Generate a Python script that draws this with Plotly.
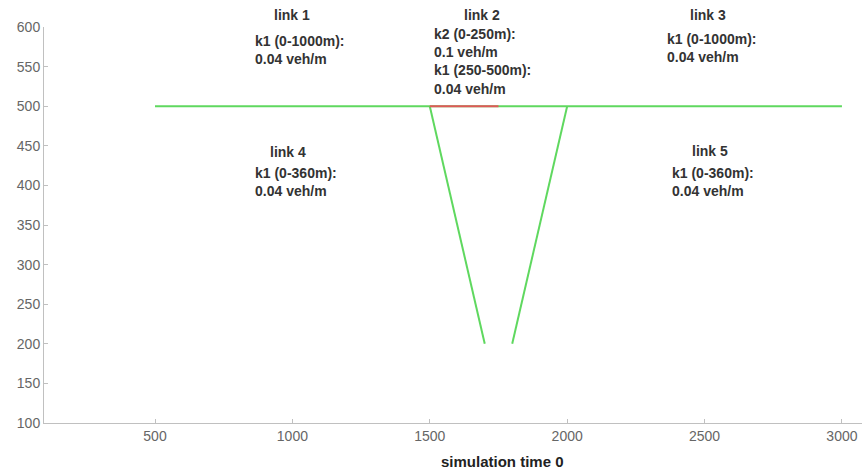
import plotly.graph_objects as go

# link segments (x positions, y positions)
link_main_x = [500, 3000]
link_main_y = [500, 500]
link2_jam_x = [1500, 1750]
link2_jam_y = [500, 500]
link4_x = [1500, 1700]
link4_y = [500, 200]
link5_x = [1800, 2000]
link5_y = [200, 500]

# annotation labels
label_titles = ["link 1", "link 2", "link 3", "link 4", "link 5"]
label_title_x = [1000, 1690, 2512, 984, 2520]
label_title_y = [615, 615, 615, 442, 443]
label_body = [
    "k1 (0-1000m):<br>0.04 veh/m",
    "k2 (0-250m):<br>0.1 veh/m<br>k1 (250-500m):<br>0.04 veh/m",
    "k1 (0-1000m):<br>0.04 veh/m",
    "k1 (0-360m):<br>0.04 veh/m",
    "k1 (0-360m):<br>0.04 veh/m",
]
label_body_x = [857, 1508, 2356, 857, 2374]
label_body_y = [571, 557, 573, 404, 404]

x_ticks = [500, 1000, 1500, 2000, 2500, 3000]
y_ticks = [100, 150, 200, 250, 300, 350, 400, 450, 500, 550, 600]
x_range = [96, 3073]
y_range = [100, 600]

GREEN = "#5fd85f"
RED = "#e05858"
FONT = "Arial, Liberation Sans, sans-serif"

fig = go.Figure()
for xs, ys, c in [(link_main_x, link_main_y, GREEN), (link4_x, link4_y, GREEN),
                  (link5_x, link5_y, GREEN), (link2_jam_x, link2_jam_y, RED)]:
    fig.add_trace(go.Scatter(x=xs, y=ys, mode="lines",
                             line=dict(color=c, width=2), showlegend=False,
                             hoverinfo="skip", cliponaxis=False))

font_ann = dict(family=FONT, size=14, color="#333333")
for t, x, y in zip(label_titles, label_title_x, label_title_y):
    if y > y_range[1]:
        # above the plotting area: place with paper y
        yp = (y - y_range[0]) / (y_range[1] - y_range[0])
        fig.add_annotation(x=x, y=yp, yref="paper", text="<b>%s</b>" % t,
                           showarrow=False, xanchor="center", yanchor="middle",
                           font=font_ann)
    else:
        fig.add_annotation(x=x, y=y, text="<b>%s</b>" % t, showarrow=False,
                           xanchor="center", yanchor="middle", font=font_ann)
for t, x, y in zip(label_body, label_body_x, label_body_y):
    fig.add_annotation(x=x, y=y, text="<b>%s</b>" % t.replace("<br>", "</b><br><b>"),
                       showarrow=False, xanchor="left", yanchor="middle",
                       align="left", font=font_ann)

fig.add_annotation(xref="paper", yref="paper", x=(502 - 44) / 818, y=-39 / 396,
                   text="<b>simulation time 0</b>", showarrow=False,
                   xanchor="center", yanchor="middle",
                   font=dict(family=FONT, size=15, color="#222222"))

axis_common = dict(showgrid=False, zeroline=False, showline=True,
                   linecolor="#c0c0c0", linewidth=1, ticks="inside", ticklen=4,
                   tickcolor="#c0c0c0",
                   tickfont=dict(family=FONT, size=14, color="#666666"))

fig.update_layout(
    width=862, height=472,
    margin=dict(l=44, r=0, t=27, b=49),
    paper_bgcolor="white", plot_bgcolor="white",
    hovermode=False,
    xaxis=dict(range=x_range, tickvals=x_ticks, **axis_common),
    yaxis=dict(range=y_range, tickvals=y_ticks, **axis_common),
)

fig.write_html(
    "out.html",
    config={"displayModeBar": False, "staticPlot": True},
    post_script="document.body.style.margin='0';document.body.style.overflow='hidden';",
)
